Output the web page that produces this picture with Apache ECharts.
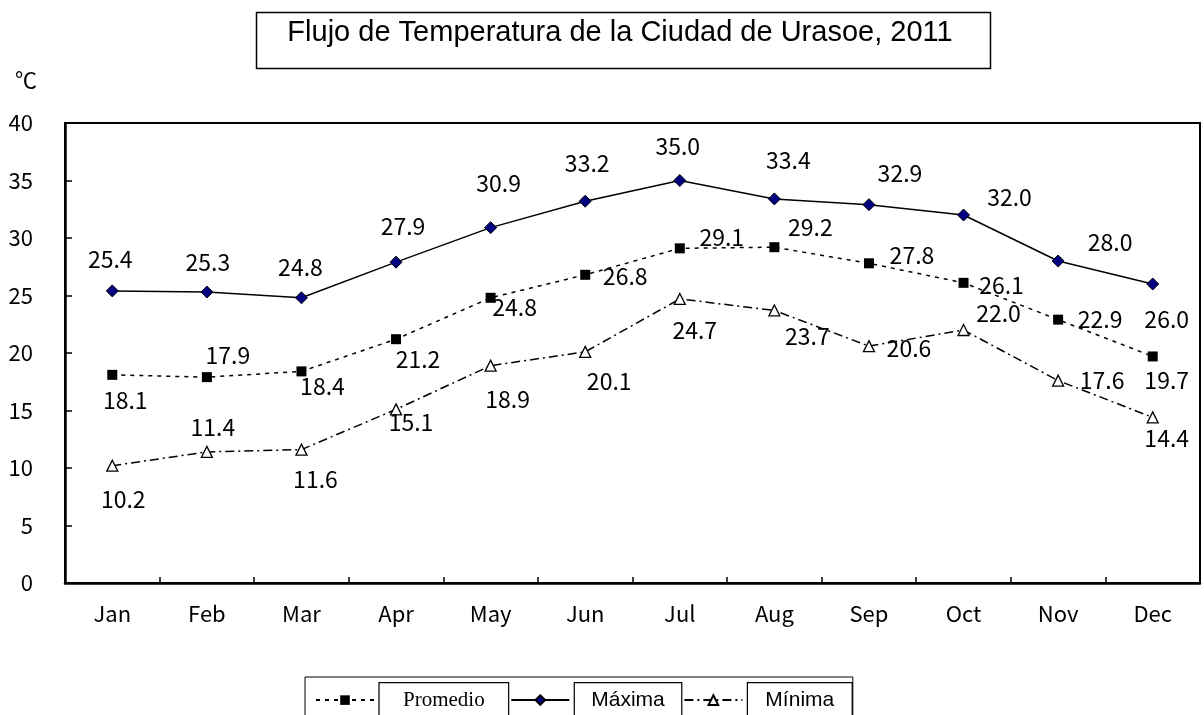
<!DOCTYPE html>
<html>
<head>
<meta charset="utf-8">
<script src="https://cdn.jsdelivr.net/npm/echarts@6/dist/echarts.min.js"></script>
<style>html,body{margin:0;padding:0;background:#fff;}#c{width:1204px;height:715px;}</style>
</head>
<body>
<div id="c"></div>
<script>
const titleText = 'Flujo de Temperatura de la Ciudad de Urasoe, 2011';
const unitLabel = '℃';
const months = ['Jan','Feb','Mar','Apr','May','Jun','Jul','Aug','Sep','Oct','Nov','Dec'];
const promedio = [18.1, 17.9, 18.4, 21.2, 24.8, 26.8, 29.1, 29.2, 27.8, 26.1, 22.9, 19.7];
const maxima   = [25.4, 25.3, 24.8, 27.9, 30.9, 33.2, 35.0, 33.4, 32.9, 32.0, 28.0, 26.0];
const minima   = [10.2, 11.4, 11.6, 15.1, 18.9, 20.1, 24.7, 23.7, 20.6, 22.0, 17.6, 14.4];
const seriesNames = ['Promedio', 'Máxima', 'Mínima'];

// label placement (pixel offsets from each point)
const promedioLabelOffsets = [[13,25],[21,-22],[21,15],[22,20],[24,9],[40,1],[42,-11],[36,-20],[43,-8],[38,2],[42,0],[14,24]];
const maximaLabelOffsets   = [[-2,-32],[1,-30],[-1,-31],[7,-36],[8,-44],[2,-38],[-2,-34],[14,-39],[31,-31],[46,-18],[52,-19],[14,35]];
const minimaLabelOffsets   = [[11,34],[6,-25],[14,30],[15,13],[17,34],[24,29],[15,31],[33,26],[40,2],[35,-17],[44,0],[14,21]];

const gothic = '"Noto Sans CJK JP", "DejaVu Sans", sans-serif';

function withLabels(values, offsets) {
  return values.map((v, i) => ({
    value: v,
    label: { offset: offsets[i] }
  }));
}

const labelBase = {
  show: true,
  position: 'inside',
  color: '#000',
  fontFamily: gothic,
  fontSize: 23,
  formatter: p => Number(p.value).toFixed(1)
};

const chart = echarts.init(document.getElementById('c'), null, { renderer: 'canvas' });
chart.setOption({
  animation: false,
  backgroundColor: '#fff',
  title: {
    text: titleText,
    left: 620,
    top: 18,
    textAlign: 'center',
    padding: 0,
    textStyle: { fontFamily: '"Liberation Sans", Arial, sans-serif', fontSize: 29, fontWeight: 'normal', color: '#000' }
  },
  graphic: [
    { type: 'rect', left: 254, top: 10, shape: { width: 734, height: 56 }, style: { fill: 'none', stroke: '#000', lineWidth: 1.5 }, silent: true }
  ],
  legend: {
    left: 305,
    top: 677,
    padding: [5, 0, 40, 10],
    borderColor: '#000',
    borderWidth: 1,
    itemWidth: 58,
    itemHeight: 12,
    itemGap: 1,
    selectedMode: false,
    textStyle: { color: '#000', fontSize: 21, borderColor: '#000', borderWidth: 1.2, fontFamily: '"Liberation Sans", Arial, sans-serif' },
    data: [
      { name: seriesNames[0], textStyle: { fontFamily: '"Liberation Serif", "Times New Roman", serif', fontSize: 21, padding: [7, 24, 7, 24] } },
      { name: seriesNames[1], textStyle: { padding: [7, 17, 7, 17] } },
      { name: seriesNames[2], textStyle: { padding: [7, 18, 7, 18] } }
    ]
  },
  grid: {
    left: 65, right: 4, top: 123, bottom: 132,
    show: true, borderColor: '#000', borderWidth: 2, backgroundColor: 'transparent'
  },
  xAxis: {
    type: 'category',
    data: months,
    boundaryGap: true,
    axisLine: { show: true, lineStyle: { color: '#000', width: 2.5 } },
    axisTick: { show: true, inside: true, length: 6, alignWithLabel: false, lineStyle: { color: '#000', width: 1.5 } },
    axisLabel: { color: '#000', fontFamily: gothic, fontSize: 22, margin: 20 },
    splitLine: { show: false }
  },
  yAxis: {
    type: 'value',
    min: 0, max: 40, interval: 5,
    name: unitLabel,
    nameLocation: 'end',
    nameGap: 32,
    nameTextStyle: { color: '#000', fontFamily: gothic, fontSize: 22, align: 'right', padding: [0, 28, 0, 0] },
    axisLine: { show: true, lineStyle: { color: '#000', width: 2.5 } },
    axisTick: { show: true, inside: true, length: 7, lineStyle: { color: '#000', width: 1.5 } },
    axisLabel: { color: '#000', fontFamily: gothic, fontSize: 22, margin: 32 },
    splitLine: { show: false }
  },
  series: [
    {
      name: seriesNames[0],
      type: 'line',
      data: withLabels(promedio, promedioLabelOffsets),
      symbol: 'rect', symbolSize: 10,
      itemStyle: { color: '#000', borderColor: '#000', borderWidth: 0 },
      lineStyle: { color: '#000', width: 1.5, type: [4, 5] },
      label: labelBase,
      z: 3
    },
    {
      name: seriesNames[1],
      type: 'line',
      data: withLabels(maxima, maximaLabelOffsets),
      symbol: 'diamond', symbolSize: 12,
      itemStyle: { color: '#000080', borderColor: '#000', borderWidth: 1 },
      lineStyle: { color: '#000', width: 1.5, type: 'solid' },
      label: labelBase,
      z: 4
    },
    {
      name: seriesNames[2],
      type: 'line',
      data: withLabels(minima, minimaLabelOffsets),
      symbol: 'triangle', symbolSize: 11,
      itemStyle: { color: '#fff', borderColor: '#000', borderWidth: 1.3 },
      lineStyle: { color: '#000', width: 1.5, type: [9, 4, 2, 4] },
      label: labelBase,
      z: 2
    }
  ]
});
</script>
</body>
</html>
